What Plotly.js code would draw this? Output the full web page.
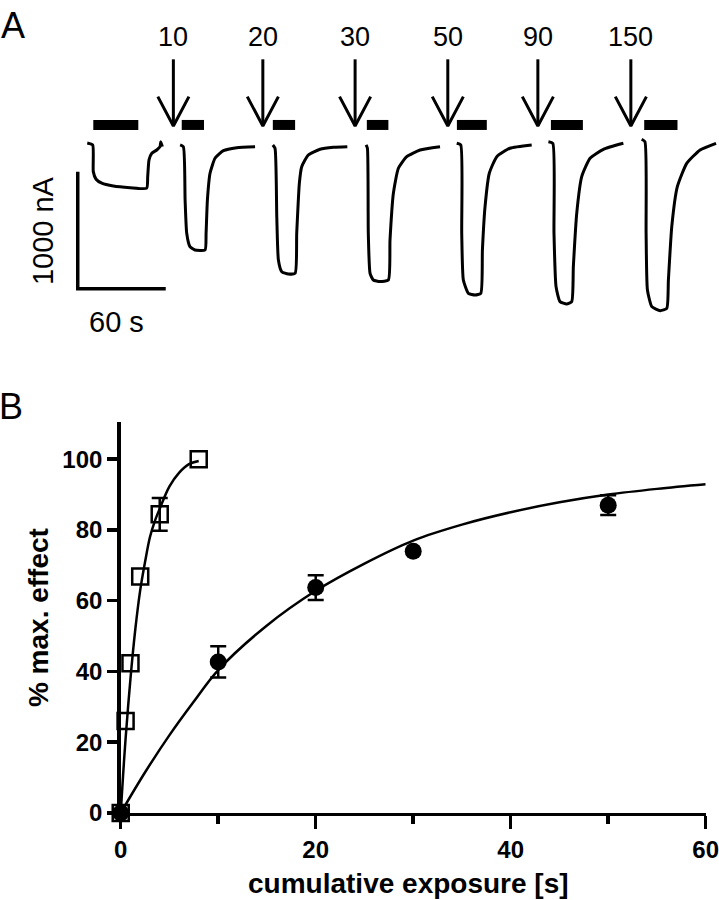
<!DOCTYPE html>
<html>
<head>
<meta charset="utf-8">
<script src="https://cdn.plot.ly/plotly-3.0.1.min.js"></script>
<style>
  html, body { margin: 0; padding: 0; background: #fff; }
  #chart { width: 719px; height: 900px; }
</style>
</head>
<body>
<div id="chart"></div>
<script>
// Panel A: current traces (time in s, current in nA, inward = negative)
const ctrlT = [6.5, 10.2, 10.6, 12.5, 16.4, 24.3, 35.7, 47.0, 47.7, 48.6, 50.5, 53.9, 56.1, 56.6, 57.7];
const ctrlI = [0, -17, -245, -310, -344, -368, -382, -387, -288, -145, -88, -60, -32, 11, -32];

const t10 = [69.8, 72.0, 73.2, 74.3, 76.5, 79.9, 86.8, 87.5, 88.4, 90.2, 93.6, 99.3, 108.4, 120.9];
const i10 = [-17, -32, -487, -772, -886, -915, -915, -772, -487, -259, -131, -66, -40, -32];

const t20 = [133.0, 134.5, 135.7, 136.8, 139.1, 143.6, 148.2, 149.3, 151.1, 152.7, 157.2, 165.2, 174.3, 183.8];
const i20 = [-17, -45, -630, -1000, -1100, -1120, -1114, -772, -344, -203, -103, -54, -37, -32];

const t30 = [196.6, 197.5, 198.1, 199.3, 201.5, 206.1, 211.8, 212.9, 215.2, 218.6, 224.3, 233.4, 247.0];
const i30 = [-17, -45, -772, -1114, -1171, -1185, -1171, -829, -430, -216, -117, -60, -32];

const t50 = [258.4, 261.1, 261.8, 262.9, 266.3, 270.9, 274.8, 275.9, 277.7, 280.6, 285.7, 294.7, 309.5];
const i50 = [-3, -17, -772, -1171, -1285, -1299, -1285, -915, -544, -259, -117, -45, -17];

const t90 = [320.9, 323.9, 324.7, 326.1, 328.8, 333.4, 336.8, 337.9, 340.2, 343.6, 349.3, 358.4, 372.0];
const i90 = [11, -3, -772, -1228, -1356, -1376, -1356, -1057, -601, -288, -131, -54, -3];

const t150 = [384.5, 386.7, 387.5, 388.4, 391.4, 397.1, 401.6, 402.7, 405.0, 408.8, 415.2, 424.3, 435.2];
const i150 = [32, 11, -772, -1256, -1399, -1433, -1413, -1171, -715, -374, -174, -60, -3];

// application bars (s)
const barStart = [10.6, 70.9, 133.0, 197.1, 258.5, 322.6, 386.2];
const barEnd   = [41.3, 86.1, 148.2, 211.8, 278.9, 344.4, 408.9];

// arrows marking each exposure
const arrowT      = [65.2, 126.2, 189.1, 252.3, 313.7, 377.1];
const arrowLabels = ['10', '20', '30', '50', '90', '150'];

// scale bar
const scaleSec = 60;
const scaleNA  = 1000;

// Panel B: % max. effect vs cumulative exposure
const expoSq = [0, 0.5, 1, 2, 4, 8];
const effSq  = [0, 26, 42.3, 66.8, 84.4, 100];
const errSq  = [null, null, null, null, 4.6, null];

const expoCirc = [0, 10, 20, 30, 50];
const effCirc  = [0, 42.7, 63.7, 74, 87];
const errCirc  = [null, 4.4, 3.5, null, 2.8];

// fitted curves
const fitSqX = [0, 0.25, 0.5, 1, 1.5, 2, 2.5, 3, 3.5, 4, 5, 6, 7, 8];
const fitSqY = [0, 11, 21, 38, 52, 63, 71, 78, 82.5, 86, 92.3, 96.2, 98.6, 99.5];

const fitCircX = [0, 2.5, 5, 7.5, 10, 15, 20, 25, 30, 35, 40, 45, 50, 55, 60];
const fitCircY = [0, 11.5, 22, 31.5, 40.4, 53, 62.8, 70.5, 77, 81.5, 85, 87.8, 90, 91.6, 92.9];

const FONT = 'Liberation Sans, Arial, Helvetica, sans-serif';
const barLevel = 154;      // nA, height of application bars
const arrowTop = 715, arrowTip = 145, arrowWing = 396, arrowHalf = 10.6;
const scaleY0 = -245;

// helper: join segments with nulls
function segs(list) {
  const x = [], y = [];
  list.forEach(s => { x.push(...s[0], null); y.push(...s[1], null); });
  return { x, y };
}

// error bars only where an SEM was drawn
function errTrace(xs, ys, errs) {
  const idx = errs.map((e, k) => e == null ? -1 : k).filter(k => k >= 0);
  return { x: idx.map(k => xs[k]), y: idx.map(k => ys[k]), mode: 'markers', cliponaxis: false,
    marker: { size: 1, color: 'rgba(0,0,0,0)' }, hoverinfo: 'skip',
    error_y: { type: 'data', array: idx.map(k => errs[k]), visible: true, color: 'black', thickness: 2.5, width: 8 } };
}

const traceSets = [[ctrlT, ctrlI], [t10, i10], [t20, i20], [t30, i30], [t50, i50], [t90, i90], [t150, i150]];
const data = [];

traceSets.forEach(([t, i]) => {
  data.push({ x: t, y: i, xaxis: 'x2', yaxis: 'y2', type: 'scatter', mode: 'lines',
    line: { color: 'black', width: 3, shape: 'spline', smoothing: 0.5 }, hoverinfo: 'skip' });
});

const bars = segs(barStart.map((s, k) => [[s, barEnd[k]], [barLevel, barLevel]]));
data.push({ x: bars.x, y: bars.y, xaxis: 'x2', yaxis: 'y2', mode: 'lines',
  line: { color: 'black', width: 10 }, hoverinfo: 'skip' });

const arrows = segs(arrowT.flatMap(a => [
  [[a, a], [arrowTop, arrowTip]],
  [[a - arrowHalf, a, a + arrowHalf], [arrowWing, arrowTip, arrowWing]]
]));
data.push({ x: arrows.x, y: arrows.y, xaxis: 'x2', yaxis: 'y2', mode: 'lines',
  line: { color: 'black', width: 3 }, hoverinfo: 'skip' });

data.push({ x: [0, 0, scaleSec], y: [scaleY0, scaleY0 - scaleNA, scaleY0 - scaleNA],
  xaxis: 'x2', yaxis: 'y2', mode: 'lines', line: { color: 'black', width: 3.5 }, hoverinfo: 'skip' });

// Panel B
data.push({ x: fitSqX, y: fitSqY, mode: 'lines', line: { color: 'black', width: 2.5, shape: 'spline' },
  cliponaxis: false, hoverinfo: 'skip' });
data.push({ x: fitCircX, y: fitCircY, mode: 'lines', line: { color: 'black', width: 2.5, shape: 'spline' },
  cliponaxis: false, hoverinfo: 'skip' });
data.push(errTrace(expoCirc, effCirc, errCirc));
data.push(errTrace(expoSq, effSq, errSq));
data.push({ x: expoCirc, y: effCirc, mode: 'markers', cliponaxis: false,
  marker: { symbol: 'circle', size: 17, color: 'black' } });
data.push({ x: expoSq, y: effSq, mode: 'markers', cliponaxis: false,
  marker: { symbol: 'square-open', size: 16, color: 'black', line: { width: 2.5, color: 'black' } } });

const annotations = arrowT.map((a, k) => ({
  x: a, y: 906, xref: 'x2', yref: 'y2', text: arrowLabels[k], showarrow: false,
  font: { family: FONT, size: 27, color: 'black' }, xanchor: 'center', yanchor: 'middle'
}));
const centred = { showarrow: false, xanchor: 'center', yanchor: 'middle' };
annotations.push(
  Object.assign({ x: -23.7, y: scaleY0 - scaleNA / 2, xref: 'x2', yref: 'y2', text: scaleNA + ' nA', textangle: -90,
    font: { family: FONT, size: 29, color: 'black' } }, centred),
  Object.assign({ x: 26.5, y: -1530, xref: 'x2', yref: 'y2', text: scaleSec + ' s',
    font: { family: FONT, size: 29, color: 'black' } }, centred),
  Object.assign({ x: 0.0174, y: 0.9722, xref: 'paper', yref: 'paper', text: 'A',
    font: { family: FONT, size: 36, color: 'black' } }, centred),
  Object.assign({ x: 0.015, y: 0.5478, xref: 'paper', yref: 'paper', text: 'B',
    font: { family: FONT, size: 36, color: 'black' } }, centred),
  Object.assign({ x: 0.0529, y: 0.3133, xref: 'paper', yref: 'paper', text: '% max. effect', textangle: -90,
    font: { family: FONT, size: 28, color: 'black', weight: 'bold' } }, centred),
  Object.assign({ x: 0.5675, y: 0.0178, xref: 'paper', yref: 'paper', text: 'cumulative exposure [s]',
    font: { family: FONT, size: 28, color: 'black', weight: 'bold' } }, centred)
);

const layout = {
  width: 719, height: 900,
  margin: { l: 0, r: 0, t: 0, b: 0 },
  paper_bgcolor: 'white', plot_bgcolor: 'rgba(0,0,0,0)',
  showlegend: false,
  font: { family: FONT, color: 'black' },
  xaxis2: { domain: [0, 1], range: [-53.0, 437.2], visible: false, anchor: 'y2' },
  yaxis2: { domain: [0.6, 1], range: [-1855, 1222], visible: false, anchor: 'x2' },
  xaxis: {
    domain: [0.1679, 0.9815], range: [0, 60], anchor: 'y',
    showline: true, linewidth: 3.5, linecolor: 'black',
    tickvals: [0, 20, 40, 60], ticks: 'outside', ticklen: 13, tickwidth: 3.5, tickcolor: 'black',
    minor: { dtick: 10, tick0: 0, ticks: 'outside', ticklen: 8, tickwidth: 3.5, tickcolor: 'black' },
    showgrid: false, zeroline: false, ticklabeloverflow: 'allow',
    tickfont: { family: FONT, size: 24, color: 'black', weight: 'bold' }
  },
  yaxis: {
    domain: [0.0967, 0.5311], range: [0, 110.5], anchor: 'x',
    showline: true, linewidth: 3.5, linecolor: 'black',
    tickvals: [0, 20, 40, 60, 80, 100], ticks: 'outside', ticklen: 10, tickwidth: 3.5, tickcolor: 'black',
    showgrid: false, zeroline: false, ticklabeloverflow: 'allow',
    tickfont: { family: FONT, size: 24, color: 'black', weight: 'bold' }
  },
  annotations: annotations
};

Plotly.newPlot('chart', data, layout, { displayModeBar: false, staticPlot: true });
</script>
</body>
</html>
